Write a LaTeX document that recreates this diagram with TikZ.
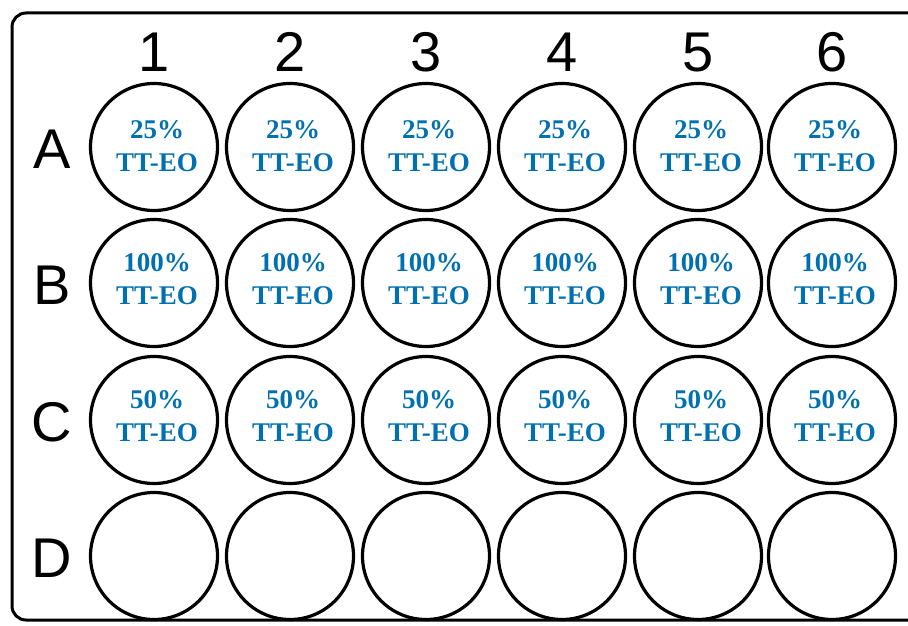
\documentclass[tikz,border=0pt]{standalone}
\usepackage{fontspec}
\setmainfont{Liberation Serif}
\setsansfont{Liberation Sans}
\definecolor{wellblue}{RGB}{0,112,176}
\begin{document}
\begin{tikzpicture}[x=1pt,y=-1pt,
  well/.style={circle,draw=black,line width=3.2pt,minimum size=127pt,inner sep=0pt},
  conc/.style={font=\bfseries\fontsize{27}{33}\selectfont,text=wellblue,align=center,inner sep=0pt},
  lab/.style={font=\sffamily\fontsize{56}{56}\selectfont,inner sep=0pt,anchor=base}]
\useasboundingbox (0,0) rectangle (908,626);
\begin{scope}
  \clip (0,0) rectangle (908,626);
  \draw[line width=3pt,rounded corners=14pt] (12,13) rectangle (940,620);
\end{scope}
% column labels
\foreach \c/\x in {1/154,2/290,3/426,4/562,5/698,6/832}
  \node[lab] (col\c) at (\x,72) {\c};
% row labels
\foreach \r/\y in {A/168,B/304,C/441,D/577}
  \node[lab] (row\r) at (52,\y) {\r};
% wells
\foreach \r/\y in {A/147,B/283,C/420,D/556}
  \foreach \c/\x in {1/154,2/290,3/426,4/562,5/698,6/832}
    \node[well] (w\r\c) at (\x,\y) {};
% labels in wells
\foreach \c in {1,...,6}{
  \node[conc] (tA\c) at ([shift={(3,-1)}]wA\c.center) {25\%\\TT-EO};
  \node[conc] (tB\c) at ([shift={(3,-4)}]wB\c.center) {100\%\\TT-EO};
  \node[conc] (tC\c) at ([shift={(3,-4)}]wC\c.center) {50\%\\TT-EO};
}
\end{tikzpicture}
\end{document}
